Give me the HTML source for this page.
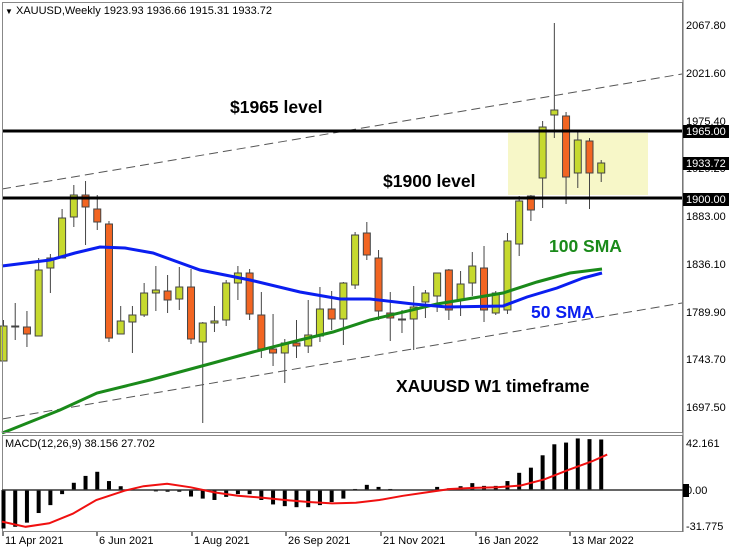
<!DOCTYPE html>
<html><head><meta charset="utf-8"><style>
body{margin:0;background:#fff;}
svg{display:block;font-family:"Liberation Sans",sans-serif;}
.ax{font-size:11px;fill:#000;}
.wt{font-size:11px;fill:#fff;}
.big{font-size:17.5px;font-weight:bold;}
</style></head><body>
<svg id="s" width="735" height="551" viewBox="0 0 735 551" xmlns="http://www.w3.org/2000/svg">
<rect x="0" y="0" width="735" height="551" fill="#fff"/>
<rect x="508" y="133" width="140" height="62" fill="#f7f7c8"/>
<g id="g"></g>
<line x1="2" y1="189" x2="682" y2="74" stroke="#555" stroke-width="1" stroke-dasharray="9,5"/>
<line x1="2" y1="419" x2="682" y2="303" stroke="#555" stroke-width="1" stroke-dasharray="9,5"/>
<polyline fill="none" stroke="#1a8a1a" stroke-width="3" points="2,433 10,430 60,410 97,393 150,380 213,363 253,352 300,340 333,332 370,320 437,304 503,293 537,282 570,273 602,269"/>
<polyline fill="none" stroke="#0a1ef0" stroke-width="3" points="2,266 50,260 75,253 100,247 125,248 153,253 200,270 250,280 300,292 340,299 370,299 413,304 447,307 503,306 527,297 557,288 583,278 602,273"/>
<line x1="2" y1="131" x2="683" y2="131" stroke="#000" stroke-width="3"/>
<line x1="2" y1="198" x2="683" y2="198" stroke="#000" stroke-width="3"/>
<rect x="2.5" y="2.5" width="680" height="430" fill="none" stroke="#888"/>
<rect x="2.5" y="435.5" width="680" height="96" fill="none" stroke="#888"/>
<line x1="683" y1="0" x2="683" y2="532" stroke="#666"/>
<text x="5" y="14" class="ax"><tspan font-size="8">▼</tspan> XAUUSD,Weekly  1923.93 1936.66 1915.31 1933.72</text>
<text x="230" y="113" class="big">$1965 level</text>
<text x="383" y="187" class="big">$1900 level</text>
<text x="549" y="252" class="big" style="fill:#1a8a1a">100 SMA</text>
<text x="531" y="318" class="big" style="fill:#0a1ef0">50 SMA</text>
<text x="396" y="392" class="big">XAUUSD W1 timeframe</text>
<g class="ax">
<text x="686" y="29">2067.80</text><text x="686" y="77">2021.60</text><text x="686" y="125">1975.40</text>
<text x="686" y="172">1929.20</text><text x="686" y="220">1883.00</text><text x="686" y="268">1836.10</text>
<text x="686" y="316">1789.90</text><text x="686" y="363">1743.70</text><text x="686" y="411">1697.50</text>
</g>
<rect x="683" y="125" width="46" height="13" fill="#000"/><text x="686" y="135" class="wt">1965.00</text>
<rect x="683" y="157" width="46" height="13" fill="#000"/><text x="686" y="167" class="wt">1933.72</text>
<rect x="683" y="193" width="46" height="13" fill="#000"/><text x="686" y="203" class="wt">1900.00</text>
<g id="m"></g>
<line x1="2" y1="490" x2="683" y2="490" stroke="#333" stroke-width="1.5"/>
<polyline id="sig" fill="none" stroke="#f01010" stroke-width="2"/>
<text x="5" y="447" class="ax">MACD(12,26,9) 38.156 27.702</text>
<text x="686" y="447" class="ax">42.161</text>
<rect x="683" y="484" width="6" height="13" fill="#000"/><text x="686" y="494" class="ax">0.00</text>
<text x="686" y="530" class="ax">-31.775</text>
<g id="d" class="ax"></g>
</svg>
<script>
var C=[[361,326,320,361],[326,326,303,340],[327,334,311,347],[336,270,258,336],[268,258,254,293],[258,218,209,258],[217,195,185,227],[195,207,181,245],[209,222,195,230],[224,338,221,342],[334,321,306,334],[322,315,306,353],[315,293,283,317],[293,290,266,311],[291,300,275,313],[299,287,267,310],[287,339,269,344],[342,323,322,423],[323,321,306,332],[320,283,280,326],[283,273,266,300],[273,314,269,320],[315,349,292,358],[349,353,314,366],[353,343,339,383],[343,346,320,358],[346,335,300,353],[336,309,287,342],[309,319,291,330],[319,283,282,345],[285,235,232,289],[233,255,222,260],[258,311,250,320],[313,318,292,341],[320,319,310,333],[319,307,286,350],[302,293,290,318],[296,273,273,312],[270,310,269,320],[300,284,271,316],[283,266,252,296],[268,310,246,322],[313,293,291,315],[310,241,233,314],[244,201,196,256],[196,210,195,221],[178,127,121,208],[115,110,23,138],[116,177,112,204],[173,140,132,188],[141,173,138,209],[173,163,160,182]];
var g=document.getElementById('g'),h='';
C.forEach(function(c,i){var x=3.5+11.72*i;var o=c[0],cl=c[1],hi=Math.min(c[2],o,cl),lo=Math.max(c[3],o,cl);var up=cl<o;
h+='<line x1="'+x+'" y1="'+hi+'" x2="'+x+'" y2="'+lo+'" stroke="#444"/>';
var t=Math.min(o,cl),b=Math.max(Math.abs(o-cl),1);
h+='<rect x="'+(x-3.5)+'" y="'+t+'" width="7" height="'+b+'" fill="'+(up?'#c6d92e':'#f26522')+'" stroke="#444" stroke-width="1"/>';});
g.innerHTML=h;
var M=[305,300,288,260,237,205,172,152,140,167,182,190,193,197,198,198,212,218,222,213,205,205,222,235,240,243,243,237,228,218,190,178,184,190,193,193,193,184,188,182,173,181,181,167,143,128,92,60,55,43,45,46];
h='';M.forEach(function(Y,i){var x=3.5+11.72*i,y=490+(Y-193)/2.91;var t=Math.min(y,490),b=Math.abs(y-490);if(b<0.5)return;h+='<rect x="'+(x-2)+'" y="'+t+'" width="4" height="'+b+'" fill="#000"/>';});
document.getElementById('m').innerHTML=h;
var S=[[0,285],[50,300],[100,290],[150,262],[200,222],[260,195],[300,182],[350,175],[400,185],[450,200],[500,210],[550,215],[600,222],[650,228],[700,232],[750,230],[800,222],[850,210],[900,200],[950,190],[1000,187],[1050,185],[1100,180],[1150,162],[1200,135],[1250,110],[1283,90]];
document.getElementById('sig').setAttribute('points',S.map(function(p){return (2+p[0]/2.12).toFixed(1)+','+(490+(p[1]-193)/2.91).toFixed(1)}).join(' '));
var D=[[3,'11 Apr 2021'],[97,'6 Jun 2021'],[192,'1 Aug 2021'],[286,'26 Sep 2021'],[381,'21 Nov 2021'],[476,'16 Jan 2022'],[570,'13 Mar 2022']];
h='';D.forEach(function(d){h+='<line x1="'+d[0]+'" y1="532" x2="'+d[0]+'" y2="536" stroke="#000"/><text x="'+(d[0]+2)+'" y="544">'+d[1]+'</text>';});
document.getElementById('d').innerHTML=h;
</script>
</body></html>
